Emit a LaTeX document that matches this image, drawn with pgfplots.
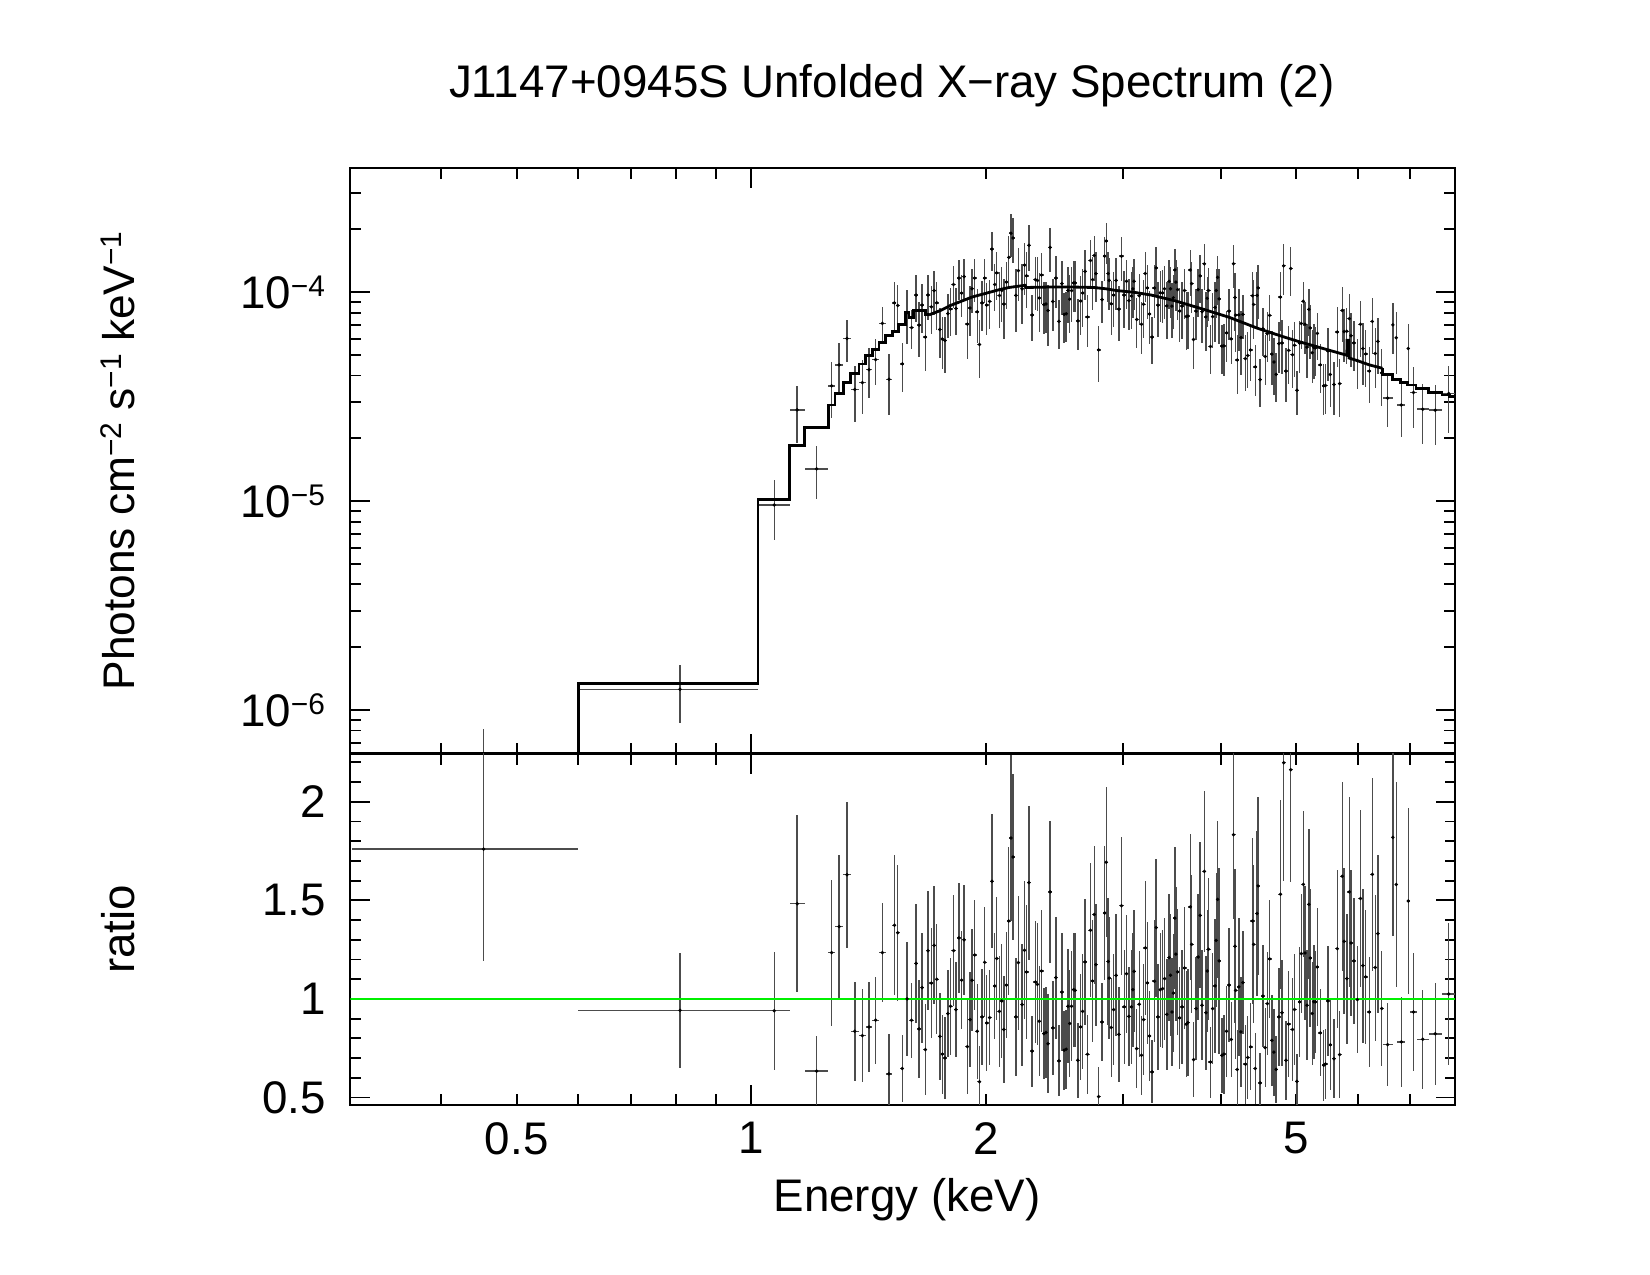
\documentclass[border=0pt]{standalone}
\usepackage{fontspec}
\setmainfont{Liberation Sans}
\usepackage{pgfplots}
\usepackage{pgfplotstable}
\pgfplotsset{compat=1.18}

% small raised exponent
\newcommand{\sups}[1]{\raisebox{3.6pt}{\fontsize{8.5}{9}\selectfont #1}}

% Wide bins: E, half-width, ratio, ratio error, unfolded flux, flux error
\pgfplotstableread{
E dE r dr f df
0.4535 0.1465 1.76 0.57 6.12e-7 1.98e-7
0.81 0.21 0.942 0.29 1.26e-6 0.39e-6
1.07 0.05 0.94 0.30 9.59e-6 3.06e-6
1.145 0.025 1.483 0.45 2.74e-5 0.83e-5
1.2125 0.0425 0.634 0.176 1.43e-5 0.40e-5
1.2675 0.0125 1.235 0.37 3.57e-5 1.07e-5
1.296 0.016 1.367 0.365 4.50e-5 1.20e-5
1.3265 0.0145 1.63 0.37 6.01e-5 1.37e-5
1.3575 0.0165 0.836 0.25 3.43e-5 1.03e-5
1.388 0.014 0.814 0.235 3.70e-5 1.07e-5
1.4155 0.0135 0.858 0.23 4.26e-5 1.14e-5
1.4435 0.0145 0.892 0.22 4.77e-5 1.18e-5
1.4725 0.0145 1.235 0.25 7.11e-5 1.44e-5
1.5015 0.0145 0.62 0.20 3.84e-5 1.24e-5
6.548 0.0975 0.768 0.21 3.12e-5 0.85e-5
6.651 0.02 1.82 0.50 6.99e-5 1.92e-5
6.718 0.02 1.58 0.52 6.07e-5 2.00e-5
6.82 0.08 0.782 0.23 2.89e-5 0.85e-5
6.96 0.03 1.497 0.47 5.39e-5 1.69e-5
7.07 0.07 0.934 0.30 3.32e-5 1.07e-5
7.265 0.125 0.795 0.25 2.76e-5 0.87e-5
7.54 0.15 0.823 0.26 2.73e-5 0.86e-5
7.845 0.155 1.025 0.36 3.28e-5 1.15e-5
}\widebins

% Narrow bins: E, ratio, ratio error, unfolded flux, flux error
\pgfplotstableread{
E r dr f df
1.526 1.374 0.355 8.90e-5 2.30e-5
1.541 1.336 0.345 8.66e-5 2.24e-5
1.562 0.647 0.17 4.55e-5 1.20e-5
1.584 1.000 0.29 7.99e-5 2.32e-5
1.605 0.892 0.19 6.78e-5 1.44e-5
1.627 1.180 0.30 9.70e-5 2.47e-5
1.641 0.848 0.25 6.97e-5 2.06e-5
1.656 1.057 0.28 8.69e-5 2.30e-5
1.672 0.743 0.23 6.11e-5 1.89e-5
1.685 1.245 0.30 9.71e-5 2.34e-5
1.702 1.080 0.28 8.53e-5 2.21e-5
1.716 1.272 0.30 1.02e-4 2.40e-5
1.729 1.100 0.28 8.91e-5 2.27e-5
1.745 0.810 0.22 6.64e-5 1.80e-5
1.758 0.720 0.20 5.98e-5 1.66e-5
1.772 0.700 0.21 5.88e-5 1.76e-5
1.787 0.926 0.22 7.92e-5 1.88e-5
1.801 0.963 0.245 8.33e-5 2.12e-5
1.817 1.245 0.28 1.09e-4 2.45e-5
1.830 0.946 0.24 8.37e-5 2.12e-5
1.846 1.310 0.28 1.17e-4 2.51e-5
1.861 1.095 0.25 9.91e-5 2.26e-5
1.875 1.300 0.28 1.19e-4 2.56e-5
1.893 0.758 0.24 7.05e-5 2.23e-5
1.908 0.895 0.24 8.41e-5 2.26e-5
1.919 1.095 0.26 1.04e-4 2.47e-5
1.934 1.223 0.28 1.17e-4 2.67e-5
1.949 0.836 0.24 8.07e-5 2.32e-5
1.962 0.580 0.18 5.63e-5 1.75e-5
1.977 0.909 0.245 8.91e-5 2.40e-5
1.992 1.186 0.28 1.17e-4 2.76e-5
2.004 0.878 0.245 8.69e-5 2.43e-5
2.021 0.905 0.24 9.05e-5 2.40e-5
2.035 1.597 0.34 1.61e-4 3.43e-5
2.052 1.066 0.27 1.09e-4 2.75e-5
2.064 1.205 0.31 1.24e-4 3.18e-5
2.081 0.937 0.28 9.65e-5 2.88e-5
2.095 0.990 0.29 1.02e-4 3.00e-5
2.108 0.845 0.27 8.79e-5 2.81e-5
2.124 1.070 0.27 1.12e-4 2.84e-5
2.139 1.395 0.375 1.47e-4 3.96e-5
2.153 1.816 0.42 1.92e-4 4.45e-5
2.166 1.720 0.42 1.82e-4 4.45e-5
2.184 0.909 0.30 9.68e-5 3.20e-5
2.201 1.184 0.34 1.27e-4 3.64e-5
2.225 0.971 0.31 1.04e-4 3.33e-5
2.241 1.247 0.35 1.35e-4 3.78e-5
2.254 1.137 0.34 1.20e-4 3.59e-5
2.270 1.590 0.39 1.68e-4 4.11e-5
2.292 0.735 0.18 7.79e-5 1.91e-5
2.314 1.086 0.31 1.15e-4 3.29e-5
2.328 1.074 0.31 1.14e-4 3.29e-5
2.341 0.887 0.28 9.40e-5 2.97e-5
2.356 1.142 0.31 1.21e-4 3.29e-5
2.373 0.824 0.23 8.73e-5 2.44e-5
2.387 0.830 0.23 8.80e-5 2.44e-5
2.402 0.773 0.25 8.19e-5 2.65e-5
2.417 1.543 0.36 1.64e-4 3.82e-5
2.436 0.853 0.24 9.04e-5 2.54e-5
2.458 1.108 0.31 1.17e-4 3.29e-5
2.480 0.686 0.18 7.27e-5 1.91e-5
2.502 1.035 0.30 1.10e-4 3.18e-5
2.519 0.740 0.20 7.84e-5 2.12e-5
2.534 0.745 0.20 7.90e-5 2.12e-5
2.548 0.963 0.29 1.02e-4 3.07e-5
2.561 0.875 0.27 9.28e-5 2.86e-5
2.575 0.963 0.28 1.02e-4 2.97e-5
2.590 1.047 0.29 1.11e-4 3.07e-5
2.602 1.044 0.29 1.11e-4 3.07e-5
2.623 0.689 0.19 7.30e-5 2.01e-5
2.645 0.858 0.27 9.09e-5 2.86e-5
2.661 0.937 0.29 9.93e-5 3.07e-5
2.680 1.188 0.32 1.26e-4 3.39e-5
2.699 0.719 0.20 7.62e-5 2.12e-5
2.723 1.348 0.34 1.42e-4 3.59e-5
2.740 1.091 0.31 1.15e-4 3.27e-5
2.753 1.428 0.35 1.50e-4 3.68e-5
2.767 1.174 0.31 1.23e-4 3.26e-5
2.789 0.505 0.15 5.30e-5 1.58e-5
2.818 0.883 0.20 9.23e-5 2.09e-5
2.839 1.436 0.34 1.49e-4 3.54e-5
2.853 1.693 0.38 1.76e-4 3.95e-5
2.869 1.190 0.32 1.23e-4 3.31e-5
2.877 1.106 0.31 1.14e-4 3.19e-5
2.895 0.855 0.25 8.81e-5 2.58e-5
2.916 0.946 0.28 9.70e-5 2.87e-5
2.937 1.120 0.31 1.14e-4 3.16e-5
2.961 0.820 0.24 8.32e-5 2.44e-5
2.984 1.473 0.35 1.49e-4 3.54e-5
3.008 0.960 0.29 9.70e-5 2.93e-5
3.029 1.128 0.30 1.13e-4 3.02e-5
3.050 0.912 0.25 9.12e-5 2.50e-5
3.073 0.960 0.29 9.60e-5 2.90e-5
3.086 1.047 0.29 1.04e-4 2.89e-5
3.097 1.140 0.31 1.13e-4 3.08e-5
3.121 0.748 0.20 7.41e-5 1.98e-5
3.145 0.973 0.27 9.63e-5 2.67e-5
3.166 0.714 0.20 7.03e-5 1.97e-5
3.185 0.895 0.28 8.77e-5 2.74e-5
3.201 1.259 0.34 1.23e-4 3.33e-5
3.221 1.081 0.31 1.05e-4 3.02e-5
3.241 0.812 0.23 7.88e-5 2.23e-5
3.267 0.630 0.16 6.11e-5 1.55e-5
3.290 1.090 0.31 1.05e-4 2.98e-5
3.306 1.362 0.35 1.31e-4 3.36e-5
3.323 0.909 0.27 8.68e-5 2.58e-5
3.346 1.047 0.29 9.95e-5 2.76e-5
3.369 1.052 0.30 9.94e-5 2.84e-5
3.389 1.103 0.31 1.04e-4 2.91e-5
3.412 0.922 0.28 8.62e-5 2.62e-5
3.435 1.210 0.32 1.13e-4 2.98e-5
3.448 1.120 0.31 1.04e-4 2.87e-5
3.464 0.934 0.275 8.59e-5 2.53e-5
3.478 1.030 0.30 9.42e-5 2.75e-5
3.494 1.410 0.36 1.28e-4 3.28e-5
3.504 1.227 0.34 1.12e-4 3.09e-5
3.522 1.137 0.32 1.03e-4 2.90e-5
3.544 0.904 0.26 8.14e-5 2.34e-5
3.569 0.960 0.29 8.59e-5 2.60e-5
3.595 1.157 0.31 1.02e-4 2.74e-5
3.613 0.872 0.27 7.67e-5 2.38e-5
3.631 0.880 0.27 7.70e-5 2.36e-5
3.656 1.467 0.37 1.28e-4 3.22e-5
3.671 1.277 0.35 1.10e-4 3.03e-5
3.692 0.692 0.19 5.95e-5 1.63e-5
3.721 0.951 0.26 8.13e-5 2.22e-5
3.743 1.213 0.32 1.03e-4 2.70e-5
3.765 1.424 0.37 1.20e-4 3.11e-5
3.786 0.968 0.28 8.08e-5 2.34e-5
3.812 1.647 0.41 1.37e-4 3.40e-5
3.830 0.930 0.29 7.63e-5 2.38e-5
3.844 1.142 0.31 9.36e-5 2.54e-5
3.859 1.252 0.36 1.02e-4 2.93e-5
3.882 0.680 0.18 5.51e-5 1.46e-5
3.907 0.951 0.28 7.66e-5 2.25e-5
3.936 1.066 0.34 8.47e-5 2.70e-5
3.948 1.297 0.34 1.02e-4 2.69e-5
3.964 1.505 0.40 1.18e-4 3.14e-5
3.981 1.193 0.47 9.31e-5 3.67e-5
4.014 0.714 0.19 5.53e-5 1.47e-5
4.038 0.720 0.20 5.54e-5 1.54e-5
4.070 0.836 0.23 6.40e-5 1.76e-5
4.100 1.070 0.29 8.13e-5 2.20e-5
4.126 0.794 0.19 5.99e-5 1.43e-5
4.155 1.833 0.43 1.37e-4 3.23e-5
4.172 1.267 0.39 9.44e-5 2.91e-5
4.180 1.044 0.35 7.78e-5 2.61e-5
4.200 0.642 0.20 4.75e-5 1.48e-5
4.221 1.061 0.35 7.80e-5 2.57e-5
4.246 0.833 0.28 6.08e-5 2.04e-5
4.270 1.083 0.26 7.85e-5 1.89e-5
4.303 0.669 0.20 4.82e-5 1.44e-5
4.332 0.703 0.21 4.99e-5 1.49e-5
4.369 0.757 0.22 5.30e-5 1.54e-5
4.394 1.395 0.42 9.63e-5 2.90e-5
4.408 1.277 0.40 8.75e-5 2.74e-5
4.430 0.647 0.18 4.40e-5 1.22e-5
4.453 1.433 0.42 9.67e-5 2.84e-5
4.467 1.573 0.45 1.05e-4 3.02e-5
4.494 0.574 0.15 3.82e-5 1.00e-5
4.531 1.014 0.26 6.69e-5 1.72e-5
4.562 0.753 0.20 4.93e-5 1.31e-5
4.590 0.976 0.26 6.34e-5 1.69e-5
4.622 1.203 0.30 7.76e-5 1.94e-5
4.653 0.790 0.23 5.06e-5 1.47e-5
4.681 0.730 0.22 4.64e-5 1.40e-5
4.712 0.643 0.17 4.05e-5 1.07e-5
4.749 0.909 0.25 5.68e-5 1.56e-5
4.772 1.531 0.48 9.49e-5 2.98e-5
4.794 0.930 0.27 5.72e-5 1.66e-5
4.817 2.198 0.60 1.34e-4 3.66e-5
4.849 0.689 0.20 4.20e-5 1.22e-5
4.889 0.872 0.27 5.28e-5 1.63e-5
4.919 2.163 0.57 1.30e-4 3.42e-5
4.944 0.845 0.26 5.03e-5 1.55e-5
4.974 0.946 0.28 5.58e-5 1.65e-5
5.010 0.582 0.14 3.40e-5 0.82e-5
5.050 0.985 0.28 5.71e-5 1.62e-5
5.075 1.230 0.30 7.10e-5 1.73e-5
5.105 1.581 0.37 9.06e-5 2.12e-5
5.130 1.233 0.34 7.03e-5 1.94e-5
5.160 0.968 0.28 5.47e-5 1.58e-5
5.190 1.480 0.38 8.29e-5 2.13e-5
5.210 1.208 0.35 6.76e-5 1.96e-5
5.241 0.926 0.26 5.14e-5 1.44e-5
5.266 0.986 0.29 5.44e-5 1.60e-5
5.291 0.985 0.26 5.42e-5 1.43e-5
5.321 1.162 0.30 6.36e-5 1.64e-5
5.368 0.828 0.22 4.50e-5 1.19e-5
5.423 0.664 0.18 3.57e-5 0.97e-5
5.451 0.670 0.18 3.58e-5 0.96e-5
5.489 0.990 0.28 5.25e-5 1.48e-5
5.528 0.767 0.23 4.04e-5 1.21e-5
5.589 0.697 0.20 3.62e-5 1.04e-5
5.644 1.255 0.40 6.46e-5 2.06e-5
5.683 0.718 0.22 3.66e-5 1.12e-5
5.727 1.622 0.48 8.19e-5 2.42e-5
5.760 1.292 0.37 6.49e-5 1.86e-5
5.805 1.103 0.33 6.51e-5 1.95e-5
5.849 1.543 0.48 7.48e-5 2.33e-5
5.877 1.284 0.37 6.20e-5 1.79e-5
5.928 1.193 0.32 5.73e-5 1.54e-5
5.989 0.997 0.27 4.71e-5 1.27e-5
6.045 1.509 0.45 7.03e-5 2.10e-5
6.088 1.169 0.39 5.38e-5 1.79e-5
6.137 1.112 0.34 5.07e-5 1.55e-5
6.204 0.934 0.28 4.20e-5 1.26e-5
6.259 1.632 0.49 7.26e-5 2.18e-5
6.314 1.159 0.37 5.10e-5 1.63e-5
6.363 1.331 0.40 5.82e-5 1.75e-5
6.436 0.951 0.29 4.12e-5 1.26e-5
}\narrowbins

\begin{document}
\begin{tikzpicture}
\path[use as bounding box] (0,0) rectangle (165mm,127.5mm);

% Unfolded spectrum
\begin{axis}[
  scale only axis, width=110.5mm, height=58.51mm,
  at={(35.04mm,52.15mm)}, anchor=south west,
  xmode=log, xmin=0.306, xmax=8,
  ymode=log, ymin=6.21e-7, ymax=3.92e-4,
  axis line style={line width=0.6pt},
  tick style={line width=0.55pt, black},
  major tick length=2mm, minor tick length=1.1mm,
  xtick={1}, xticklabels={},
  minor xtick={0.4,0.5,0.6,0.7,0.8,0.9,2,3,4,5,6,7,8},
  ytick={1e-6,1e-5,1e-4},
  yticklabels={10\sups{−6},10\sups{−5},10\sups{−4}},
  minor ytick={7e-7,8e-7,9e-7,2e-6,3e-6,4e-6,5e-6,6e-6,7e-6,8e-6,9e-6,2e-5,3e-5,4e-5,5e-5,6e-5,7e-5,8e-5,9e-5,2e-4,3e-4},
  tick label style={font=\fontsize{13}{15}\selectfont},
  yticklabel style={xshift=-1.3mm},
  ylabel={Photons cm\sups{−2} s\sups{−1} keV\sups{−1}},
  ylabel style={at={(axis description cs:-0.2103,0.5)}, anchor=center, font=\fontsize{12.6}{15}\selectfont},
  title={J1147+0945S Unfolded X−ray Spectrum (2)},
  title style={at={(axis description cs:0.490,1.105)}, anchor=center, font=\fontsize{13}{15}\selectfont},
]
\addplot[only marks, mark=*, mark size=0.25pt, black,
  error bars/.cd, x dir=both, x explicit, y dir=both, y explicit,
  error bar style={line width=0.4pt, black!70}, error mark=none]
  table[x=E, y=f, x error=dE, y error=df] {\widebins};
\addplot[only marks, mark=*, mark size=0.25pt, black,
  error bars/.cd, x dir=both, x fixed relative=0.006, y dir=both, y explicit,
  error bar style={line width=0.4pt, black!70}, error mark=none]
  table[x=E, y=f, y error=df] {\narrowbins};
% model, binned steps at low energy
\addplot[const plot, line width=0.8pt, black] coordinates {
 (0.306,3.5e-7) (0.600,1.34e-6) (1.020,1.02e-5) (1.120,1.85e-5) (1.170,2.25e-5)
 (1.255,2.89e-5) (1.280,3.29e-5) (1.312,3.69e-5) (1.341,4.10e-5) (1.374,4.54e-5)
 (1.402,4.97e-5) (1.429,5.35e-5) (1.458,5.76e-5) (1.487,6.20e-5) (1.516,6.48e-5)
 (1.546,7.03e-5) (1.577,7.99e-5) (1.593,7.60e-5) (1.616,8.22e-5) (1.673,7.80e-5)
 (1.690,7.80e-5)};
% model, fine bins
\addplot[line width=0.8pt, black] coordinates {
 (1.690,7.80e-5) (1.75,8.20e-5) (1.80,8.65e-5) (1.85,9.00e-5) (1.92,9.50e-5)
 (2.00,9.90e-5) (2.08,1.03e-4) (2.14,1.055e-4) (2.20,1.07e-4) (2.245,1.08e-4)
 (2.25,1.055e-4) (2.40,1.06e-4) (2.60,1.06e-4) (2.75,1.055e-4) (2.85,1.04e-4)
 (2.94,1.02e-4) (3.10,1.00e-4) (3.26,9.70e-5) (3.50,9.10e-5) (3.80,8.30e-5)
 (4.10,7.60e-5) (4.46,6.73e-5) (4.80,6.15e-5) (5.04,5.81e-5) (5.40,5.40e-5)
 (5.805,5.00e-5) (5.81,5.90e-5) (5.84,5.90e-5) (5.845,4.85e-5) (6.00,4.70e-5)
 (6.20,4.50e-5) (6.45,4.33e-5)};
% model, binned steps at high energy
\addplot[const plot, line width=0.8pt, black] coordinates {
 (6.45,4.33e-5) (6.45,4.06e-5) (6.645,3.84e-5) (6.81,3.69e-5) (6.946,3.60e-5)
 (7.12,3.47e-5) (7.39,3.32e-5) (7.69,3.23e-5) (7.86,3.16e-5) (8.0,3.16e-5)};
\end{axis}

% Data/model ratio
\begin{axis}[
  scale only axis, width=110.5mm, height=35.15mm,
  at={(35.04mm,52.15mm)}, anchor=north west,
  xmode=log, xmin=0.306, xmax=8,
  ymin=0.462, ymax=2.245,
  axis line style={line width=0.6pt},
  tick style={line width=0.55pt, black},
  major tick length=2mm, minor tick length=1.1mm,
  xtick={1}, xticklabels={1},
  minor xtick={0.4,0.5,0.6,0.7,0.8,0.9,2,3,4,5,6,7,8},
  extra x ticks={0.5,2,5}, extra x tick labels={0.5,2,5},
  extra x tick style={major tick length=1.1mm},
  ytick={0.5,1,1.5,2}, yticklabels={0.5,1,1.5,2},
  minor ytick={0.6,0.7,0.8,0.9,1.1,1.2,1.3,1.4,1.6,1.7,1.8,1.9,2.1,2.2},
  tick label style={font=\fontsize{13}{15}\selectfont},
  xticklabel style={yshift=-0.5mm},
  yticklabel style={xshift=-1.2mm},
  xlabel={Energy (keV)},
  xlabel style={at={(axis description cs:0.5037,-0.268)}, anchor=center, font=\fontsize{13}{15}\selectfont},
  ylabel={ratio},
  ylabel style={at={(axis description cs:-0.2103,0.5)}, anchor=center, font=\fontsize{13}{15}\selectfont},
]
\addplot[only marks, mark=*, mark size=0.25pt, black,
  error bars/.cd, x dir=both, x explicit, y dir=both, y explicit,
  error bar style={line width=0.4pt, black!70}, error mark=none]
  table[x=E, y=r, x error=dE, y error=dr] {\widebins};
\addplot[only marks, mark=*, mark size=0.25pt, black,
  error bars/.cd, x dir=both, x fixed relative=0.006, y dir=both, y explicit,
  error bar style={line width=0.4pt, black!70}, error mark=none]
  table[x=E, y=r, y error=dr] {\narrowbins};
\addplot[line width=0.8pt, color={rgb,255:red,0;green,240;blue,0}] coordinates {(0.306,1) (8,1)};
\end{axis}
\end{tikzpicture}
\end{document}
